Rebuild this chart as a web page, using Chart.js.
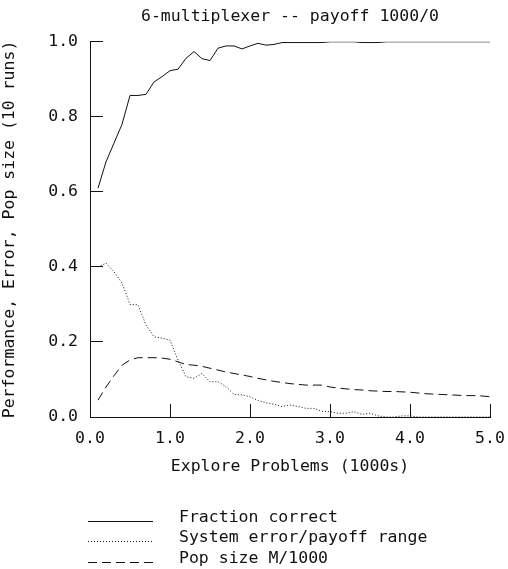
<!DOCTYPE html>
<html>
<head>
<meta charset="utf-8">
<title>6-multiplexer -- payoff 1000/0</title>
<script src="https://cdn.jsdelivr.net/npm/chart.js@4.4.1/dist/chart.umd.min.js"></script>
<style>
  html, body { margin: 0; padding: 0; background: #fff; }
</style>
</head>
<body>
<canvas id="chart" width="508" height="569"></canvas>
<script>
// explore problems, in 1000s
const problems = [
    0.1, 0.2, 0.3, 0.4, 0.5, 0.6, 0.7, 0.8, 0.9, 1.0,
    1.1, 1.2, 1.3, 1.4, 1.5, 1.6, 1.7, 1.8, 1.9, 2.0,
    2.1, 2.2, 2.3, 2.4, 2.5, 2.6, 2.7, 2.8, 2.9, 3.0,
    3.1, 3.2, 3.3, 3.4, 3.5, 3.6, 3.7, 3.8, 3.9, 4.0,
    4.1, 4.2, 4.3, 4.4, 4.5, 4.6, 4.7, 4.8, 4.9, 5.0
];

const fractionCorrect = [
    0.61, 0.68, 0.73, 0.78, 0.857, 0.857, 0.86, 0.893, 0.907, 0.923,
    0.927, 0.956, 0.974, 0.955, 0.95, 0.983, 0.989, 0.989, 0.981, 0.989,
    0.996, 0.991, 0.993, 0.998, 0.998, 0.998, 0.998, 0.998, 0.998, 1.0,
    1.0, 1.0, 1.0, 0.998, 0.998, 0.998, 1.0, 1.0, 1.0, 1.0,
    1.0, 1.0, 1.0, 1.0, 1.0, 1.0, 1.0, 1.0, 1.0, 1.0
];

const systemError = [
    0.40, 0.41, 0.387, 0.357, 0.30, 0.299, 0.245, 0.214, 0.21, 0.205,
    0.152, 0.107, 0.103, 0.116, 0.094, 0.094, 0.081, 0.06, 0.059, 0.054,
    0.044, 0.038, 0.034, 0.028, 0.032, 0.028, 0.023, 0.023, 0.015, 0.014,
    0.01, 0.01, 0.014, 0.007, 0.01, 0.003, 0, 0, 0.003, 0.003,
    0, 0, 0, 0, 0, 0, 0, 0, 0, 0
];

const popSize = [
    0.045, 0.08, 0.11, 0.138, 0.152, 0.158, 0.158, 0.158, 0.157, 0.154,
    0.147, 0.14, 0.138, 0.135, 0.13, 0.125, 0.12, 0.116, 0.112, 0.108,
    0.103, 0.099, 0.095, 0.092, 0.089, 0.087, 0.085, 0.085, 0.085, 0.08,
    0.077, 0.075, 0.073, 0.072, 0.07, 0.069, 0.068, 0.068, 0.067, 0.066,
    0.064, 0.062, 0.061, 0.06, 0.059, 0.058, 0.057, 0.057, 0.056, 0.054
];

const seriesNames = ['Fraction correct', 'System error/payoff range', 'Pop size M/1000'];
const xTickLabels = ['0.0', '1.0', '2.0', '3.0', '4.0', '5.0'];
const yTickLabels = ['0.0', '0.2', '0.4', '0.6', '0.8', '1.0'];

const FONT = { family: "'DejaVu Sans Mono', monospace", size: 16.5, weight: 'normal' };
const INK = '#111';

Chart.defaults.font.family = FONT.family;
Chart.defaults.font.size = FONT.size;
Chart.defaults.color = INK;

const toPoints = ys => problems.map((x, i) => ({ x: x, y: ys[i] }));

// legend drawn as rows under the axis: line sample then label
const rowLegend = {
    id: 'rowLegend',
    afterDraw(chart) {
        const ctx = chart.ctx;
        const left = chart.chartArea.left - 2;
        ctx.save();
        ctx.font = `${FONT.size}px ${FONT.family}`;
        ctx.fillStyle = INK;
        ctx.textBaseline = 'alphabetic';
        chart.data.datasets.forEach((ds, i) => {
            const y = Math.round(chart.chartArea.bottom + 103.5 + i * 20.75) + 0.5;
            ctx.strokeStyle = ds.borderColor;
            ctx.lineWidth = 1;
            ctx.setLineDash(ds.borderDash || []);
            ctx.beginPath();
            ctx.moveTo(left, y);
            ctx.lineTo(left + 65, y);
            ctx.stroke();
            ctx.setLineDash([]);
            ctx.fillText(ds.label, left + 91, y);
        });
        ctx.restore();
    }
};

new Chart(document.getElementById('chart'), {
    type: 'line',
    data: {
        datasets: [
            { label: seriesNames[0], data: toPoints(fractionCorrect), borderColor: INK, borderWidth: 1 },
            { label: seriesNames[1], data: toPoints(systemError), borderColor: INK, borderWidth: 1, borderDash: [1, 2] },
            { label: seriesNames[2], data: toPoints(popSize), borderColor: INK, borderWidth: 1, borderDash: [9, 5] }
        ]
    },
    options: {
        responsive: false,
        animation: false,
        devicePixelRatio: 1,
        elements: { point: { radius: 0 }, line: { tension: 0, fill: false } },
        layout: { padding: { top: 0, right: 18, bottom: 92, left: 0 } },
        plugins: {
            legend: { display: false },
            tooltip: { enabled: false },
            title: {
                display: true,
                fullSize: false,
                text: '6-multiplexer -- payoff 1000/0',
                font: FONT,
                color: INK,
                padding: { top: 7, bottom: 15 }
            }
        },
        scales: {
            x: {
                type: 'linear',
                min: 0,
                max: 5,
                ticks: {
                    stepSize: 1,
                    padding: 25,
                    font: FONT,
                    color: INK,
                    maxRotation: 0,
                    autoSkip: false,
                    callback: (v, i) => xTickLabels[i]
                },
                grid: { drawOnChartArea: false, tickLength: -13, color: INK, lineWidth: 1 },
                border: { color: INK, width: 1 },
                title: { display: true, text: 'Explore Problems (1000s)', font: FONT, color: INK, padding: 0 },
                afterFit: s => { s.height = 60; s.paddingLeft = 0; s.paddingRight = 0; }
            },
            y: {
                min: 0,
                max: 1,
                ticks: {
                    stepSize: 0.2,
                    padding: 25,
                    font: FONT,
                    color: INK,
                    autoSkip: false,
                    callback: (v, i) => yTickLabels[i]
                },
                grid: { drawOnChartArea: false, tickLength: -13, color: INK, lineWidth: 1 },
                border: { color: INK, width: 1 },
                title: { display: true, text: 'Performance, Error, Pop size (10 runs)', font: FONT, color: INK, padding: 0 },
                afterFit: s => { s.width = 90; }
            }
        }
    },
    plugins: [rowLegend]
});
</script>
</body>
</html>
